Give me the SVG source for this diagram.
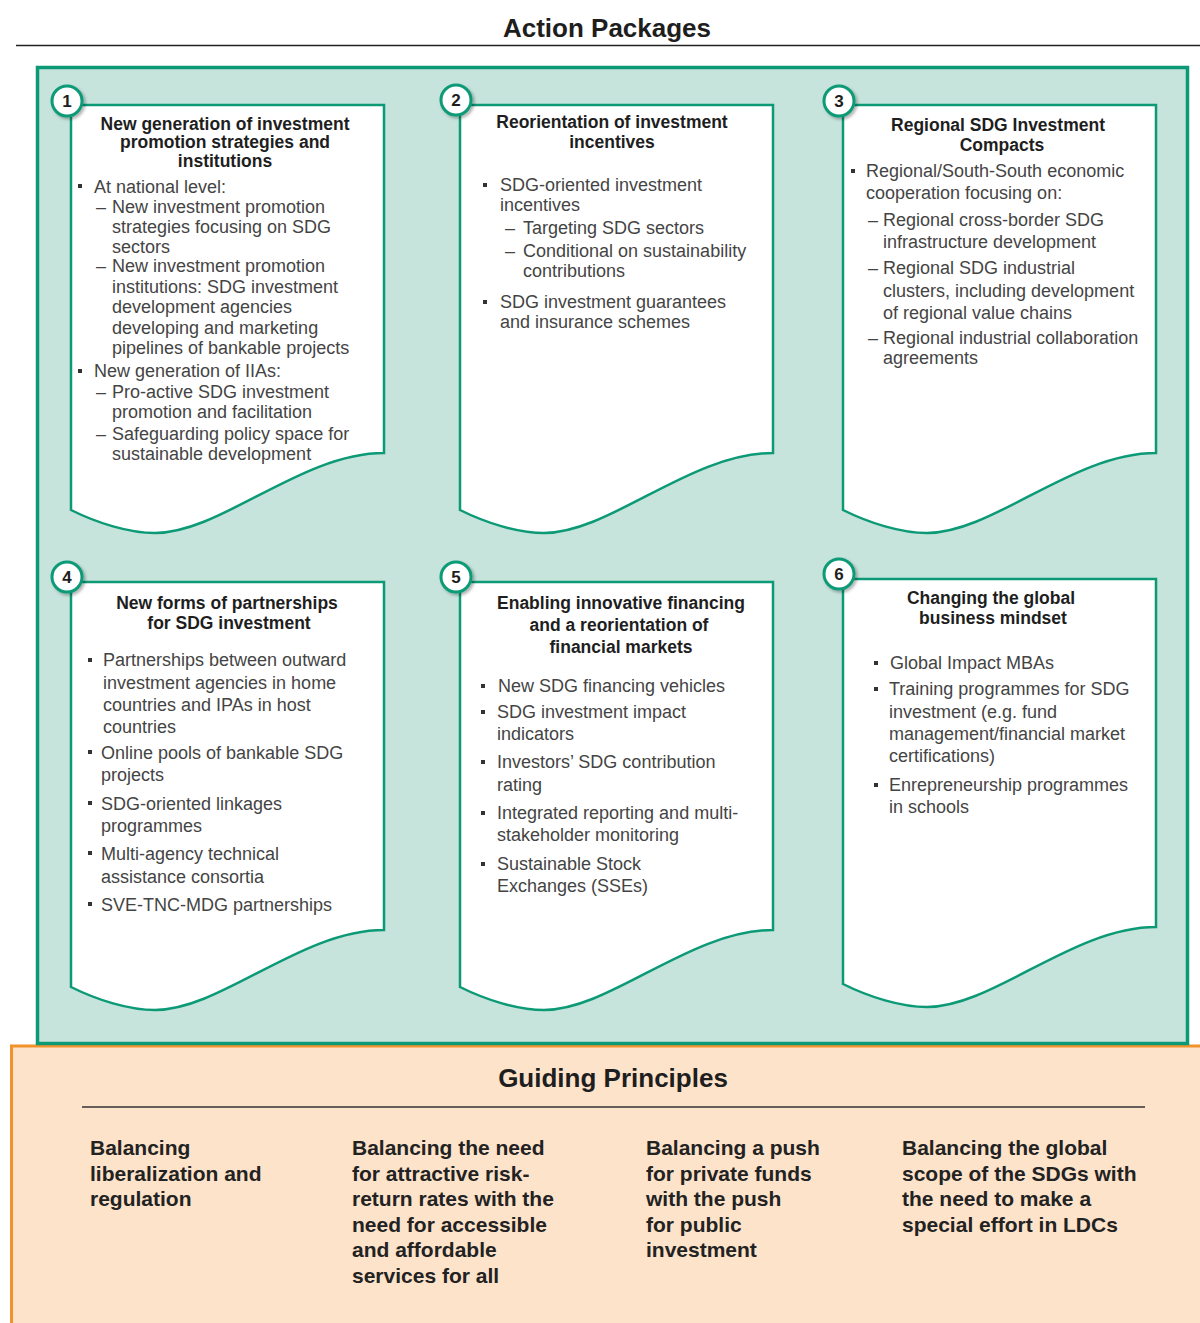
<svg xmlns="http://www.w3.org/2000/svg" xmlns:xlink="http://www.w3.org/1999/xlink" width="1200" height="1323" viewBox="0 0 1200 1323">
<style>
.doc{fill:#ffffff;stroke:#0c9a76;stroke-width:2.5}
.num{fill:#ffffff;stroke:#0c9a76;stroke-width:3}
.numt{font-family:"Liberation Sans",Arial,sans-serif;font-weight:bold;font-size:17px;fill:#1e1e1e;text-anchor:middle}
.ttl{font-family:"Liberation Sans",Arial,sans-serif;font-weight:bold;font-size:17.5px;fill:#1e1e1e;text-anchor:middle}
.bd{font-family:"Liberation Sans",Arial,sans-serif;font-size:18px;fill:#444444}
.bul{fill:#333333}
.hd{font-family:"Liberation Sans",Arial,sans-serif;font-weight:bold;font-size:26px;fill:#1e1e1e;text-anchor:middle}
.gp{font-family:"Liberation Sans",Arial,sans-serif;font-weight:bold;font-size:21px;fill:#222222}
</style>
<defs>
<path id="doc" d="M0,0 H313 V348 C230,348 150,428 84,428 C58,428 26,418 0,405 Z"/>
<filter id="sh" x="-50%" y="-50%" width="200%" height="200%">
<feDropShadow dx="2" dy="2" stdDeviation="1.5" flood-color="#000000" flood-opacity="0.3"/>
</filter>
</defs>

<rect x="11.5" y="1046" width="1200" height="300" fill="#fde3ca" stroke="#f2922a" stroke-width="3"/>
<rect x="37.5" y="67.5" width="1150" height="976" fill="#c6e3dc" stroke="#0c9a76" stroke-width="3.5"/>

<text class="hd" x="607" y="37">Action Packages</text>
<line x1="16" y1="45.5" x2="1200" y2="45.5" stroke="#222" stroke-width="1.4"/>

<g id="connectors"></g>

<g id="node-1">
<use xlink:href="#doc" href="#doc" x="71" y="105" class="doc"/>
<circle class="num" cx="67" cy="101" r="15" filter="url(#sh)"/>
<text class="numt" x="67" y="107">1</text>
<text class="ttl"><tspan x="225" y="130">New generation of investment</tspan><tspan x="225" y="148">promotion strategies and</tspan><tspan x="225" y="167">institutions</tspan></text>
<rect class="bul" x="78" y="184" width="4" height="4"/>
<rect class="bul" x="78" y="369" width="4" height="4"/>
<text class="bd">
<tspan x="94" y="193">At national level:</tspan>
<tspan x="96" y="213">–</tspan><tspan x="112" y="213">New investment promotion</tspan>
<tspan x="112" y="233">strategies focusing on SDG</tspan>
<tspan x="112" y="253">sectors</tspan>
<tspan x="96" y="272">–</tspan><tspan x="112" y="272">New investment promotion</tspan>
<tspan x="112" y="293">institutions: SDG investment</tspan>
<tspan x="112" y="313">development agencies</tspan>
<tspan x="112" y="334">developing and marketing</tspan>
<tspan x="112" y="354">pipelines of bankable projects</tspan>
<tspan x="94" y="377">New generation of IIAs:</tspan>
<tspan x="96" y="398">–</tspan><tspan x="112" y="398">Pro-active SDG investment</tspan>
<tspan x="112" y="418">promotion and facilitation</tspan>
<tspan x="96" y="440">–</tspan><tspan x="112" y="440">Safeguarding policy space for</tspan>
<tspan x="112" y="460">sustainable development</tspan>
</text>
</g>

<g id="node-2">
<use xlink:href="#doc" href="#doc" x="460" y="105" class="doc"/>
<circle class="num" cx="456" cy="100" r="15" filter="url(#sh)"/>
<text class="numt" x="456" y="106">2</text>
<text class="ttl"><tspan x="612" y="128">Reorientation of investment</tspan><tspan x="612" y="148">incentives</tspan></text>
<rect class="bul" x="483" y="183" width="4" height="4"/>
<rect class="bul" x="483" y="300" width="4" height="4"/>
<text class="bd">
<tspan x="500" y="191">SDG-oriented investment</tspan>
<tspan x="500" y="211">incentives</tspan>
<tspan x="505" y="234">–</tspan><tspan x="523" y="234">Targeting SDG sectors</tspan>
<tspan x="505" y="257">–</tspan><tspan x="523" y="257">Conditional on sustainability</tspan>
<tspan x="523" y="277">contributions</tspan>
<tspan x="500" y="308">SDG investment guarantees</tspan>
<tspan x="500" y="328">and insurance schemes</tspan>
</text>
</g>

<g id="node-3">
<use xlink:href="#doc" href="#doc" x="843" y="105" class="doc"/>
<circle class="num" cx="839" cy="101" r="15" filter="url(#sh)"/>
<text class="numt" x="839" y="107">3</text>
<text class="ttl"><tspan x="998" y="131">Regional SDG Investment</tspan><tspan x="1002" y="151">Compacts</tspan></text>
<rect class="bul" x="851" y="169" width="4" height="4"/>
<text class="bd">
<tspan x="866" y="177">Regional/South-South economic</tspan>
<tspan x="866" y="199">cooperation focusing on:</tspan>
<tspan x="868" y="226">–</tspan><tspan x="883" y="226">Regional cross-border SDG</tspan>
<tspan x="883" y="248">infrastructure development</tspan>
<tspan x="868" y="274">–</tspan><tspan x="883" y="274">Regional SDG industrial</tspan>
<tspan x="883" y="297">clusters, including development</tspan>
<tspan x="883" y="319">of regional value chains</tspan>
<tspan x="868" y="344">–</tspan><tspan x="883" y="344">Regional industrial collaboration</tspan>
<tspan x="883" y="364">agreements</tspan>
</text>
</g>

<g id="node-4">
<use xlink:href="#doc" href="#doc" x="71" y="582" class="doc"/>
<circle class="num" cx="67" cy="577" r="15" filter="url(#sh)"/>
<text class="numt" x="67" y="583">4</text>
<text class="ttl"><tspan x="227" y="609">New forms of partnerships</tspan><tspan x="229" y="629">for SDG investment</tspan></text>
<rect class="bul" x="88" y="658" width="4" height="4"/>
<rect class="bul" x="88" y="750" width="4" height="4"/>
<rect class="bul" x="88" y="801" width="4" height="4"/>
<rect class="bul" x="88" y="851" width="4" height="4"/>
<rect class="bul" x="88" y="902" width="4" height="4"/>
<text class="bd">
<tspan x="103" y="666">Partnerships between outward</tspan>
<tspan x="103" y="689">investment agencies in home</tspan>
<tspan x="103" y="711">countries and IPAs in host</tspan>
<tspan x="103" y="733">countries</tspan>
<tspan x="101" y="759">Online pools of bankable SDG</tspan>
<tspan x="101" y="781">projects</tspan>
<tspan x="101" y="810">SDG-oriented linkages</tspan>
<tspan x="101" y="832">programmes</tspan>
<tspan x="101" y="860">Multi-agency technical</tspan>
<tspan x="101" y="883">assistance consortia</tspan>
<tspan x="101" y="911">SVE-TNC-MDG partnerships</tspan>
</text>
</g>

<g id="node-5">
<use xlink:href="#doc" href="#doc" x="460" y="582" class="doc"/>
<circle class="num" cx="456" cy="577" r="15" filter="url(#sh)"/>
<text class="numt" x="456" y="583">5</text>
<text class="ttl"><tspan x="621" y="609">Enabling innovative financing</tspan><tspan x="619" y="631">and a reorientation of</tspan><tspan x="621" y="653">financial markets</tspan></text>
<rect class="bul" x="481" y="684" width="4" height="4"/>
<rect class="bul" x="481" y="710" width="4" height="4"/>
<rect class="bul" x="481" y="760" width="4" height="4"/>
<rect class="bul" x="481" y="811" width="4" height="4"/>
<rect class="bul" x="481" y="862" width="4" height="4"/>
<text class="bd">
<tspan x="498" y="692">New SDG financing vehicles</tspan>
<tspan x="497" y="718">SDG investment impact</tspan>
<tspan x="497" y="740">indicators</tspan>
<tspan x="497" y="768">Investors’ SDG contribution</tspan>
<tspan x="497" y="791">rating</tspan>
<tspan x="497" y="819">Integrated reporting and multi-</tspan>
<tspan x="497" y="841">stakeholder monitoring</tspan>
<tspan x="497" y="870">Sustainable Stock</tspan>
<tspan x="497" y="892">Exchanges (SSEs)</tspan>
</text>
</g>

<g id="node-6">
<use xlink:href="#doc" href="#doc" x="843" y="579" class="doc"/>
<circle class="num" cx="839" cy="574" r="15" filter="url(#sh)"/>
<text class="numt" x="839" y="580">6</text>
<text class="ttl"><tspan x="991" y="604">Changing the global</tspan><tspan x="993" y="624">business mindset</tspan></text>
<rect class="bul" x="874" y="661" width="4" height="4"/>
<rect class="bul" x="874" y="687" width="4" height="4"/>
<rect class="bul" x="874" y="783" width="4" height="4"/>
<text class="bd">
<tspan x="890" y="669">Global Impact MBAs</tspan>
<tspan x="889" y="695">Training programmes for SDG</tspan>
<tspan x="889" y="718">investment (e.g. fund</tspan>
<tspan x="889" y="740">management/financial market</tspan>
<tspan x="889" y="762">certifications)</tspan>
<tspan x="889" y="791">Enrepreneurship programmes</tspan>
<tspan x="889" y="813">in schools</tspan>
</text>
</g>

<g id="guiding-principles">
<text class="hd" x="613" y="1087">Guiding Principles</text>
<line x1="82" y1="1107" x2="1145" y2="1107" stroke="#333" stroke-width="1.5"/>
<text class="gp"><tspan x="90" y="1155">Balancing</tspan><tspan x="90" y="1181">liberalization and</tspan><tspan x="90" y="1206">regulation</tspan></text>
<text class="gp"><tspan x="352" y="1155">Balancing the need</tspan><tspan x="352" y="1181">for attractive risk-</tspan><tspan x="352" y="1206">return rates with the</tspan><tspan x="352" y="1232">need for accessible</tspan><tspan x="352" y="1257">and affordable</tspan><tspan x="352" y="1283">services for all</tspan></text>
<text class="gp"><tspan x="646" y="1155">Balancing a push</tspan><tspan x="646" y="1181">for private funds</tspan><tspan x="646" y="1206">with the push</tspan><tspan x="646" y="1232">for public</tspan><tspan x="646" y="1257">investment</tspan></text>
<text class="gp"><tspan x="902" y="1155">Balancing the global</tspan><tspan x="902" y="1181">scope of the SDGs with</tspan><tspan x="902" y="1206">the need to make a</tspan><tspan x="902" y="1232">special effort in LDCs</tspan></text>
</g>
</svg>
